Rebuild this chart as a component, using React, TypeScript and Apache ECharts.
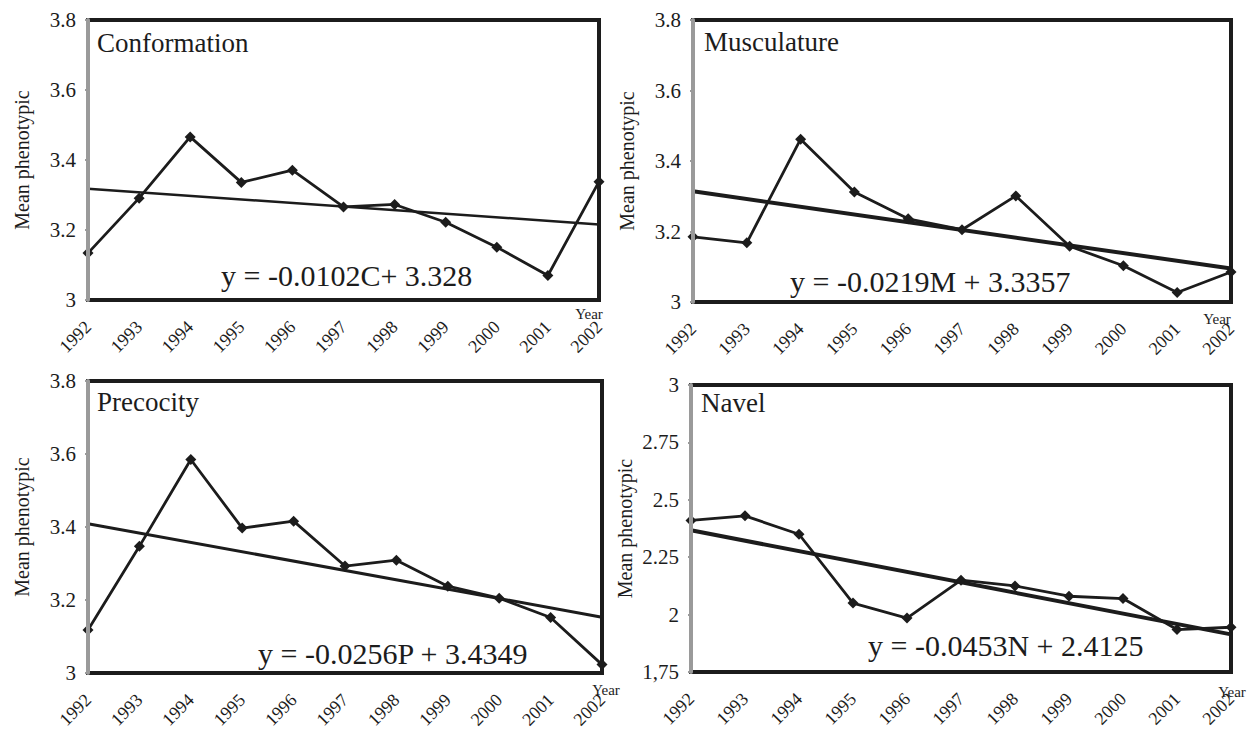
import React, { useEffect, useRef } from "react";
import * as echarts from "echarts";

const years = ["1992", "1993", "1994", "1995", "1996", "1997", "1998", "1999", "2000", "2001", "2002"];

const conformation = [3.134, 3.291, 3.466, 3.336, 3.371, 3.266, 3.273, 3.222, 3.151, 3.07, 3.338];
const musculature = [3.185, 3.168, 3.462, 3.312, 3.236, 3.205, 3.301, 3.158, 3.103, 3.027, 3.085];
const precocity = [3.118, 3.347, 3.585, 3.397, 3.416, 3.293, 3.309, 3.238, 3.205, 3.152, 3.023];
const navel = [2.41, 2.43, 2.35, 2.05, 1.985, 2.15, 2.125, 2.08, 2.07, 1.935, 1.945];

// trend line end points (1992, 2002)
const conformationTrend = [3.318, 3.216];
const musculatureTrend = [3.314, 3.095];
const precocityTrend = [3.409, 3.153];
const navelTrend = [2.367, 1.914];

const titles = ["Conformation", "Musculature", "Precocity", "Navel"];
const equations = [
  "y = -0.0102C+ 3.328",
  "y = -0.0219M + 3.3357",
  "y = -0.0256P + 3.4349",
  "y = -0.0453N + 2.4125",
];
const yRanges = [
  { min: 3, max: 3.8, interval: 0.2 },
  { min: 3, max: 3.8, interval: 0.2 },
  { min: 3, max: 3.8, interval: 0.2 },
  { min: 1.75, max: 3, interval: 0.25 },
];
const yAxisName = "Mean phenotypic";
const xAxisName = "Year";

const FONT = "Liberation Serif";
const INK = "#1c1c1c";

const grids = [
  { left: 88, top: 20, width: 511, height: 280 },
  { left: 693, top: 20, width: 538, height: 282 },
  { left: 88, top: 381, width: 514, height: 292 },
  { left: 691, top: 385, width: 540, height: 287 },
];
const trendWidths = [2.5, 4, 3, 4];

const titlePos = [
  [97, 29],
  [704, 28],
  [97, 388],
  [701, 389],
];
const eqPos = [
  [221, 290],
  [790, 296],
  [258, 668],
  [868, 660],
];
const yearPos = [
  [589, 314],
  [1217, 319],
  [606, 690],
  [1232, 692],
];

export default function App() {
  const ref = useRef<HTMLDivElement>(null);
  useEffect(() => {
    if (!ref.current) return;
    const chart = echarts.init(ref.current, null, { renderer: "svg" });
    const data = [conformation, musculature, precocity, navel];
    const trends = [conformationTrend, musculatureTrend, precocityTrend, navelTrend];

    const series: any[] = [];
    data.forEach((d, i) => {
      series.push({
        type: "line",
        xAxisIndex: i,
        yAxisIndex: i,
        data: d,
        symbol: "diamond",
        symbolSize: 11,
        itemStyle: { color: INK },
        lineStyle: { color: INK, width: 2.8 },
        z: 3,
      });
      const t = trends[i];
      series.push({
        type: "line",
        xAxisIndex: i,
        yAxisIndex: i,
        data: years.map((_, k) => (k === 0 ? t[0] : k === years.length - 1 ? t[1] : null)),
        connectNulls: true,
        symbol: "none",
        lineStyle: { color: INK, width: trendWidths[i] },
        z: 2,
      });
    });

    const graphic: any[] = [];
    titles.forEach((t, i) => {
      graphic.push({
        type: "text",
        x: titlePos[i][0],
        y: titlePos[i][1],
        style: { text: t, fontFamily: FONT, fontSize: 27, fill: INK, align: "left", verticalAlign: "top" },
        z: 10,
      });
      graphic.push({
        type: "text",
        x: eqPos[i][0],
        y: eqPos[i][1],
        style: { text: equations[i], fontFamily: FONT, fontSize: 30, fill: INK, align: "left", verticalAlign: "bottom" },
        z: 10,
      });
      graphic.push({
        type: "text",
        x: yearPos[i][0],
        y: yearPos[i][1],
        style: { text: xAxisName, fontFamily: FONT, fontSize: 15, fill: INK, align: "center", verticalAlign: "middle" },
        z: 10,
      });
    });

    chart.setOption({
      animation: false,
      backgroundColor: "#fff",
      textStyle: { fontFamily: FONT, color: INK },
      grid: grids.map((g) => ({
        ...g,
        show: true,
        borderColor: INK,
        borderWidth: 4,
        backgroundColor: "transparent",
        containLabel: false,
      })),
      xAxis: grids.map((_, i) => ({
        type: "category",
        gridIndex: i,
        data: years,
        boundaryGap: false,
        axisLine: { lineStyle: { color: INK, width: 4 } },
        axisTick: { show: false },
        splitLine: { show: false },
        axisLabel: {
          rotate: 45,
          interval: 0,
          margin: 24,
          fontFamily: FONT,
          fontSize: 18,
          color: INK,
        },
      })),
      yAxis: yRanges.map((r, i) => ({
        type: "value",
        gridIndex: i,
        min: r.min,
        max: r.max,
        interval: r.interval,
        name: yAxisName,
        nameLocation: "middle",
        nameGap: 56,
        nameTextStyle: { fontFamily: FONT, fontSize: 20, color: INK },
        axisLine: { show: true, lineStyle: { color: "#9a9a9a", width: 4 } },
        axisTick: { show: true, length: 3, lineStyle: { color: "#9a9a9a", width: 2 } },
        splitLine: { show: false },
        axisLabel: {
          fontFamily: FONT,
          fontSize: 21,
          color: INK,
          margin: 12,
          formatter: (v: number) => (Math.abs(v - 1.75) < 1e-9 ? "1,75" : String(Math.round(v * 100) / 100)),
        },
        z: 4,
      })),
      series,
      graphic,
    });
    return () => chart.dispose();
  }, []);
  return (
    <div
      ref={ref}
      style={{ position: "fixed", left: 0, top: 0, width: 1247, height: 733, background: "#fff", fontFamily: FONT }}
    />
  );
}
